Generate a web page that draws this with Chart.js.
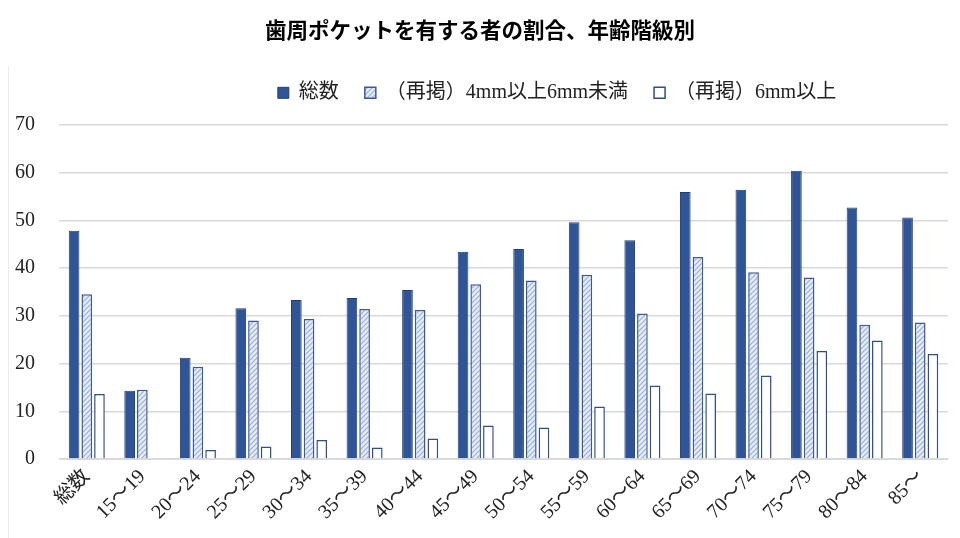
<!DOCTYPE html>
<html lang="ja">
<head>
    <meta charset="UTF-8">
    <title>歯周ポケットを有する者の割合、年齢階級別</title>
    <script src="https://cdn.jsdelivr.net/npm/chart.js"></script>
    <style>
        html, body {
            margin: 0;
            padding: 0;
            background: #ffffff;
        }
        #wrap {
            position: relative;
            width: 960px;
            height: 538px;
        }
        #frame-line {
            position: absolute;
            left: 8px;
            top: 66px;
            bottom: 0;
            border-left: 1px solid #ececec;
        }
    </style>
</head>
<body>
    <div id="wrap">
        <div id="frame-line"></div>
        <canvas id="pocketChart" width="960" height="538"></canvas>
    </div>

    <script>
        // 年齢階級
        const categories = ['総数', '15〜19', '20〜24', '25〜29', '30〜34', '35〜39', '40〜44', '45〜49',
            '50〜54', '55〜59', '60〜64', '65〜69', '70〜74', '75〜79', '80〜84', '85〜'];
        const seriesNames = ['総数', '（再掲）4mm以上6mm未満', '（再掲）6mm以上'];

        // 割合（%）
        const totalValues = [47.8, 14.3, 21.2, 31.6, 33.3, 33.7, 35.4, 43.4, 44.0, 49.6, 45.8, 55.9, 56.4, 60.4, 52.7, 50.6];
        const mid4to6Values = [34.5, 14.5, 19.3, 29.0, 29.3, 31.4, 31.2, 36.6, 37.4, 38.6, 30.5, 42.3, 39.1, 38.0, 28.1, 28.6];
        const over6Values = [13.6, null, 1.9, 2.6, 4.0, 2.4, 4.3, 7.0, 6.6, 11.0, 15.4, 13.7, 17.5, 22.6, 24.8, 22.0];

        const yTicks = [0, 10, 20, 30, 40, 50, 60, 70];

        const serifFont = "'Liberation Serif', 'Noto Sans CJK JP', serif";

        // 斜線パターン
        function makeHatch() {
            const c = document.createElement('canvas');
            c.width = 5;
            c.height = 5;
            const g = c.getContext('2d');
            g.fillStyle = '#e6ecf7';
            g.fillRect(0, 0, 5, 5);
            g.strokeStyle = '#98aed8';
            g.lineWidth = 1.1;
            g.beginPath();
            g.moveTo(-1, 6); g.lineTo(6, -1);
            g.moveTo(-1, 1); g.lineTo(1, -1);
            g.moveTo(4, 6); g.lineTo(6, 4);
            g.stroke();
            return g.createPattern(c, 'repeat');
        }

        // 凡例の下に余白を足し、凡例とタイトルを右へずらす
        const legendGap = {
            id: 'legendGap',
            beforeInit(chart) {
                const fit = chart.legend.fit;
                chart.legend.fit = function () {
                    fit.bind(chart.legend)();
                    this.height += 12;
                };
            },
            afterLayout(chart) {
                chart.legend.left += 83;
                chart.legend.right += 83;
                chart.titleBlock.left += 6;
                chart.titleBlock.right += 6;
            }
        };

        const ctx = document.getElementById('pocketChart').getContext('2d');
        const hatch = makeHatch();

        new Chart(ctx, {
            type: 'bar',
            data: {
                labels: categories,
                datasets: [
                    {
                        label: seriesNames[0],
                        data: totalValues,
                        backgroundColor: '#2f5597',
                        borderColor: '#223f75',
                        borderWidth: 1
                    },
                    {
                        label: seriesNames[1],
                        data: mid4to6Values,
                        backgroundColor: hatch,
                        borderColor: '#3b5a96',
                        borderWidth: 1.5
                    },
                    {
                        label: seriesNames[2],
                        data: over6Values,
                        backgroundColor: '#ffffff',
                        borderColor: '#2f4f8c',
                        borderWidth: 1.5
                    }
                ]
            },
            plugins: [legendGap],
            options: {
                responsive: false,
                animation: false,
                devicePixelRatio: 1,
                layout: { padding: { top: 17, left: 0, right: 12, bottom: 0 } },
                datasets: {
                    bar: { categoryPercentage: 0.685, barPercentage: 0.84 }
                },
                plugins: {
                    title: {
                        display: true,
                        text: '歯周ポケットを有する者の割合、年齢階級別',
                        color: '#000000',
                        font: { family: "'Noto Sans CJK JP', sans-serif", size: 21.5, weight: 'bold' },
                        padding: { top: 0, bottom: 14 }
                    },
                    legend: {
                        display: true,
                        position: 'top',
                        labels: {
                            boxWidth: 11,
                            boxHeight: 11,
                            padding: 26,
                            color: '#222222',
                            font: { family: serifFont, size: 20 }
                        }
                    },
                    tooltip: { enabled: false }
                },
                scales: {
                    x: {
                        grid: { display: false, drawTicks: false },
                        border: { display: true, color: '#d9d9d9', width: 1 },
                        ticks: {
                            color: '#222222',
                            font: { family: serifFont, size: 20 },
                            minRotation: 45,
                            maxRotation: 45,
                            padding: 6,
                            autoSkip: false
                        },
                        afterFit: (s) => { s.height = 79; }
                    },
                    y: {
                        min: 0,
                        max: 70,
                        afterBuildTicks: (s) => { s.ticks = yTicks.map(v => ({ value: v })); },
                        grid: { color: '#d9d9d9', lineWidth: 1.5, drawTicks: false },
                        border: { display: false },
                        ticks: {
                            color: '#222222',
                            font: { family: serifFont, size: 20 },
                            padding: 24
                        },
                        afterFit: (s) => { s.width = 59; }
                    }
                }
            }
        });
    </script>
</body>
</html>
